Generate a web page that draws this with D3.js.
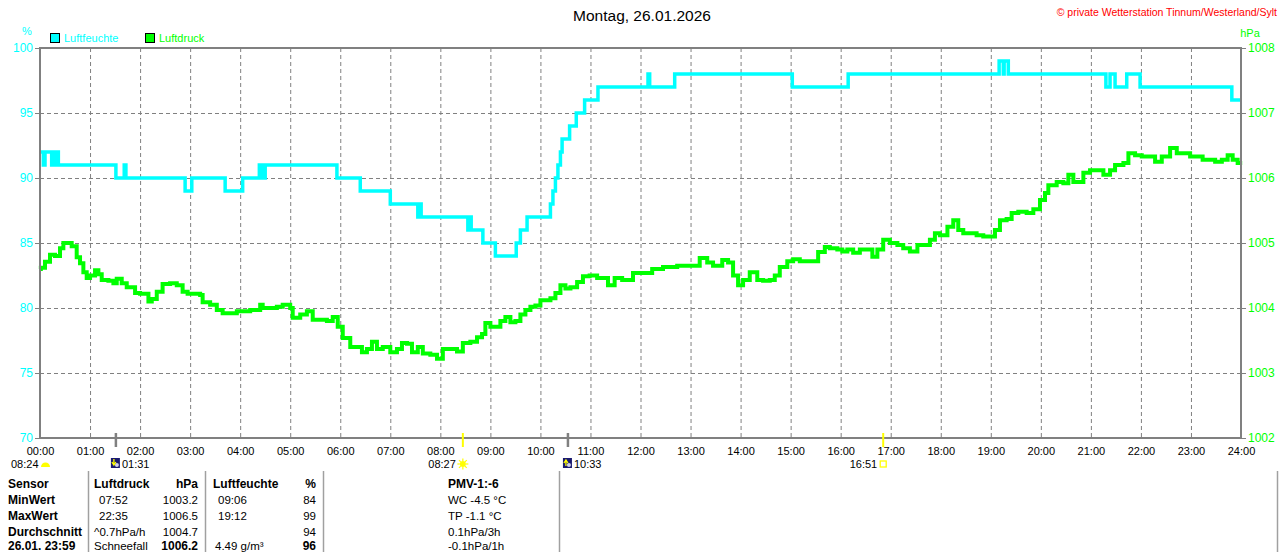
<!DOCTYPE html>
<html><head><meta charset="utf-8">
<script src="https://cdn.jsdelivr.net/npm/d3@7"></script>
<style>
html,body{margin:0;padding:0;background:#fff;}
svg{display:block;font-family:"Liberation Sans",Arial,sans-serif;}
</style></head>
<body><svg id="c" width="1280" height="552"></svg>
<script>
// ---------- data ----------
const title = "Montag, 26.01.2026";
const copyright = "© private Wetterstation Tinnum/Westerland/Sylt";
const seriesNames = ["Luftfeuchte", "Luftdruck"];
const hourTicks = d3.range(0, 25).map(h => (h < 10 ? "0" : "") + h + ":00");
const humTicks = [70, 75, 80, 85, 90, 95, 100];
const pressTicks = [1002, 1003, 1004, 1005, 1006, 1007, 1008];

// humidity (%) — step changes, minute of day
const humMin = [0,4,6,14,18,22,91,101,103,174,182,222,243,263,266,270,356,384,420,453,455,457,513,515,517,531,546,571,576,584,612,615,618,621,624,626,635,643,653,669,729,731,761,902,969,1150,1155,1156,1161,1278,1283,1289,1303,1319,1429,1440];
const humVal = [92,91,92,91,92,91,90,91,90,89,90,89,90,91,90,91,90,89,88,87,88,87,86,87,86,85,84,85,86,87,88,89,90,91,92,93,94,95,96,97,98,97,98,97,98,99,98,99,98,97,98,97,98,97,96,96];

// air pressure (hPa), minute of day
const pressMin = [0,1,6,12,18,24,28,34,38,44,48,52,56,60,66,70,74,82,88,92,98,104,110,114,120,126,130,134,140,147,156,164,171,177,183,192,195,204,212,219,228,236,243,252,264,267,276,284,291,300,303,312,320,327,336,344,351,357,363,372,380,386,392,398,404,411,420,428,434,440,446,453,459,468,476,483,492,500,507,516,524,530,534,540,546,552,558,564,570,576,582,588,594,600,606,612,618,624,630,636,644,651,659,668,675,681,689,698,705,711,719,728,734,747,764,779,791,800,807,818,825,831,837,843,851,860,867,875,881,887,896,903,911,920,927,933,941,947,956,962,968,975,983,992,998,1004,1011,1019,1028,1035,1043,1052,1059,1067,1073,1079,1088,1095,1101,1107,1115,1123,1131,1139,1145,1151,1159,1165,1173,1183,1191,1199,1205,1209,1219,1227,1233,1239,1245,1251,1259,1267,1275,1283,1289,1299,1305,1313,1321,1329,1337,1345,1355,1363,1371,1379,1387,1394,1403,1409,1417,1424,1430,1436,1439];
const pressVal = [1004.6,1004.62,1004.71,1004.82,1004.8,1004.92,1005.0,1005.0,1004.95,1004.78,1004.69,1004.55,1004.46,1004.5,1004.58,1004.52,1004.43,1004.42,1004.38,1004.45,1004.38,1004.32,1004.32,1004.23,1004.22,1004.22,1004.1,1004.14,1004.25,1004.37,1004.38,1004.35,1004.25,1004.22,1004.22,1004.2,1004.09,1004.05,1003.97,1003.92,1003.92,1003.95,1003.95,1003.97,1004.05,1004.0,1004.0,1004.02,1004.05,1004.0,1003.85,1003.9,1003.95,1003.82,1003.82,1003.8,1003.86,1003.71,1003.54,1003.4,1003.4,1003.32,1003.37,1003.48,1003.37,1003.4,1003.32,1003.37,1003.46,1003.45,1003.32,1003.4,1003.3,1003.28,1003.22,1003.37,1003.37,1003.33,1003.46,1003.48,1003.55,1003.6,1003.77,1003.71,1003.71,1003.8,1003.86,1003.78,1003.8,1003.9,1003.97,1004.02,1004.04,1004.12,1004.12,1004.15,1004.23,1004.35,1004.3,1004.32,1004.4,1004.49,1004.5,1004.46,1004.46,1004.35,1004.46,1004.43,1004.43,1004.54,1004.54,1004.54,1004.6,1004.63,1004.65,1004.65,1004.77,1004.7,1004.65,1004.74,1004.7,1004.5,1004.35,1004.43,1004.55,1004.43,1004.42,1004.43,1004.5,1004.63,1004.72,1004.75,1004.72,1004.72,1004.72,1004.86,1004.94,1004.92,1004.9,1004.87,1004.9,1004.85,1004.9,1004.9,1004.79,1004.9,1005.05,1005.0,1004.97,1004.92,1004.87,1004.97,1004.97,1005.05,1005.15,1005.12,1005.25,1005.35,1005.2,1005.15,1005.15,1005.12,1005.1,1005.1,1005.2,1005.35,1005.37,1005.46,1005.48,1005.46,1005.52,1005.66,1005.77,1005.89,1005.94,1005.92,1006.05,1005.94,1005.94,1006.08,1006.12,1006.12,1006.05,1006.12,1006.2,1006.23,1006.38,1006.35,1006.33,1006.33,1006.25,1006.33,1006.46,1006.38,1006.38,1006.33,1006.33,1006.28,1006.28,1006.25,1006.28,1006.35,1006.28,1006.23,1006.2];

// astronomical markers: [time label, minute, kind]
const markers = [
  ["01:31", 91, "moonset"],
  ["08:27", 507, "sunrise"],
  ["10:33", 633, "moonrise"],
  ["16:51", 1011, "sunset"]
];
const dayLength = "08:24";

// table
const tableRows = [
  ["Sensor", "Luftdruck", "hPa", "Luftfeuchte", "%", "PMV-1:-6"],
  ["MinWert", "07:52", "1003.2", "09:06", "84", "WC -4.5 °C"],
  ["MaxWert", "22:35", "1006.5", "19:12", "99", "TP -1.1 °C"],
  ["Durchschnitt", "^0.7hPa/h", "1004.7", "", "94", "0.1hPa/3h"],
  ["26.01. 23:59", "Schneefall", "1006.2", "4.49 g/m³", "96", "-0.1hPa/1h"]
];

// ---------- drawing ----------
const CYAN = "#00ffff", GREEN = "#00ff00", GRAY = "#808080";
const svg = d3.select("#c");
const L = 40, R = 1241, T = 48, B = 438;
const x = d3.scaleLinear().domain([0, 1440]).range([L, R]);
const yH = d3.scaleLinear().domain([70, 100]).range([B, T]);
const yP = d3.scaleLinear().domain([1002, 1008]).range([B, T]);

// title & copyright
svg.append("text").attr("x", 642).attr("y", 21).attr("text-anchor", "middle")
  .attr("font-size", 15.5).attr("fill", "#000").text(title);
svg.append("text").attr("x", 1277).attr("y", 16).attr("text-anchor", "end")
  .attr("font-size", 10.5).attr("fill", "#ff0000").text(copyright);

// unit labels
svg.append("text").attr("x", 27).attr("y", 35).attr("text-anchor", "middle")
  .attr("font-size", 11).attr("fill", CYAN).text("%");
svg.append("text").attr("x", 1250).attr("y", 37).attr("text-anchor", "middle")
  .attr("font-size", 11).attr("fill", GREEN).text("hPa");

// legend
const legend = [[seriesNames[0], CYAN, 50], [seriesNames[1], GREEN, 145]];
legend.forEach(([name, col, lx]) => {
  svg.append("rect").attr("x", lx + 0.5).attr("y", 33.5).attr("width", 9).attr("height", 9)
    .attr("fill", col).attr("stroke", "#000").attr("stroke-width", 1);
  svg.append("text").attr("x", lx + 14).attr("y", 42).attr("font-size", 11)
    .attr("fill", col).text(name);
});

// grid
const g = svg.append("g");
g.selectAll("line.vg").data(d3.range(60, 1440, 60)).join("line")
  .attr("x1", d => x(d) + 0.5).attr("x2", d => x(d) + 0.5).attr("y1", T).attr("y2", B)
  .attr("stroke", GRAY).attr("stroke-dasharray", "4,3");
g.selectAll("line.hg").data(humTicks.slice(1, -1)).join("line")
  .attr("x1", L).attr("x2", R).attr("y1", d => yH(d) + 0.5).attr("y2", d => yH(d) + 0.5)
  .attr("stroke", GRAY).attr("stroke-dasharray", "4,3");

// left axis
const axL = svg.append("g").attr("transform", `translate(${L},0)`)
  .call(d3.axisLeft(yH).tickValues(humTicks).tickSize(5).tickPadding(2).tickFormat(d3.format("d")));
axL.select(".domain").remove();
axL.selectAll("line").attr("stroke", GRAY);
axL.selectAll("text").attr("fill", CYAN).attr("font-size", 12).attr("font-family", "Liberation Sans, Arial");

// right axis
const axR = svg.append("g").attr("transform", `translate(${R},0)`)
  .call(d3.axisRight(yP).tickValues(pressTicks).tickSize(5).tickPadding(2).tickFormat(d3.format("d")));
axR.select(".domain").remove();
axR.selectAll("line").attr("stroke", GRAY);
axR.selectAll("text").attr("fill", GREEN).attr("font-size", 12).attr("font-family", "Liberation Sans, Arial");

// bottom axis labels
const axB = svg.append("g").attr("transform", `translate(0,${B})`)
  .call(d3.axisBottom(x).tickValues(d3.range(0, 1441, 60)).tickSize(0).tickPadding(9)
    .tickFormat((d, i) => hourTicks[i]));
axB.select(".domain").remove();
axB.selectAll("text").attr("fill", "#000").attr("font-size", 11).attr("font-family", "Liberation Sans, Arial");

// lines
const humData = humMin.map((m, i) => [m, humVal[i]]);
const pressData = pressMin.map((m, i) => [m, pressVal[i]]);
svg.append("path").datum(humData)
  .attr("d", d3.line().x(d => x(d[0])).y(d => yH(d[1])).curve(d3.curveStepAfter))
  .attr("fill", "none").attr("stroke", CYAN).attr("stroke-width", 3.5);
svg.append("path").datum(pressData)
  .attr("d", d3.line().x(d => x(d[0])).y(d => yP(d[1])).curve(d3.curveStepAfter))
  .attr("fill", "none").attr("stroke", GREEN).attr("stroke-width", 4);

// frame
svg.append("rect").attr("x", L).attr("y", T).attr("width", R - L).attr("height", B - T)
  .attr("fill", "none").attr("stroke", GRAY).attr("stroke-width", 2);

// markers
markers.forEach(([lab, m, kind]) => {
  const mx = x(m);
  const isSun = kind.startsWith("sun");
  svg.append("line").attr("x1", mx).attr("x2", mx).attr("y1", 433).attr("y2", 447)
    .attr("stroke", isSun ? "#ffff00" : GRAY).attr("stroke-width", isSun ? 2 : 2.5);
  if (kind === "sunrise") {
    const sg = svg.append("g").attr("transform", `translate(${mx},464)`);
    d3.range(8).forEach(k => {
      const a = k * Math.PI / 4;
      sg.append("line").attr("x1", Math.cos(a) * 3).attr("y1", Math.sin(a) * 3)
        .attr("x2", Math.cos(a) * 5.5).attr("y2", Math.sin(a) * 5.5)
        .attr("stroke", "#ffff00").attr("stroke-width", 1.2);
    });
    sg.append("circle").attr("r", 3).attr("fill", "#ffff00");
    svg.append("text").attr("x", mx - 7).attr("y", 468).attr("text-anchor", "end")
      .attr("font-size", 11).text(lab);
  } else if (kind === "sunset") {
    svg.append("rect").attr("x", mx - 3).attr("y", 461).attr("width", 6).attr("height", 6)
      .attr("fill", "none").attr("stroke", "#ffff00").attr("stroke-width", 1.3);
    svg.append("text").attr("x", mx - 6).attr("y", 468).attr("text-anchor", "end")
      .attr("font-size", 11).text(lab);
  } else {
    svg.append("rect").attr("x", mx - 5).attr("y", 458).attr("width", 9).attr("height", 10)
      .attr("fill", "#1a1a70");
    svg.append("circle").attr("cx", mx + 1).attr("cy", 465).attr("r", 2).attr("fill", "#d0d0e8");
    svg.append("path").attr("d", kind === "moonset"
        ? `M${mx - 2},459 L${mx - 2},464 M${mx - 4},462 L${mx - 2},465 L${mx},462`
        : `M${mx - 2},466 L${mx - 2},461 M${mx - 4},463 L${mx - 2},460 L${mx},463`)
      .attr("stroke", "#ffff00").attr("stroke-width", 1.3).attr("fill", "none");
    svg.append("text").attr("x", mx + 6).attr("y", 468).attr("font-size", 11).text(lab);
  }
});
// day length
svg.append("text").attr("x", 11).attr("y", 468).attr("font-size", 11).text(dayLength);
svg.append("path").attr("d", "M41,467 A4.5,4.5 0 0 1 50,467 Z").attr("fill", "#ffff00");

// table
[88, 205, 323, 559, 1277].forEach(lx => {
  svg.append("line").attr("x1", lx + 0.5).attr("x2", lx + 0.5).attr("y1", 471).attr("y2", 552)
    .attr("stroke", "#a0a0a0").attr("stroke-width", 1.5);
});
const rowY = [488, 504, 520, 536, 550];
const colDef = [
  {x: 8, anchor: "start"},
  {x: 99, anchor: "start"},
  {x: 198, anchor: "end"},
  {x: 218, anchor: "start"},
  {x: 316, anchor: "end"},
  {x: 448, anchor: "start"}
];
tableRows.forEach((row, ri) => {
  row.forEach((cell, ci) => {
    let cx = colDef[ci].x;
    if (ri === 0 && (ci === 1)) cx = 94;
    if (ri === 0 && ci === 3) cx = 213;
    if (ri === 3 && ci === 1) cx = 94;
    if (ri === 4 && ci === 1) cx = 94;
    if (ri === 4 && ci === 3) cx = 215;
    const bold = ri === 0 || ci === 0 || (ri === 4 && (ci === 2 || ci === 4));
    svg.append("text").attr("x", cx).attr("y", rowY[ri]).attr("text-anchor", colDef[ci].anchor)
      .attr("font-size", bold ? 12 : 11.5).attr("font-weight", bold ? "bold" : "normal")
      .attr("fill", "#000").text(cell);
  });
});
</script></body></html>
